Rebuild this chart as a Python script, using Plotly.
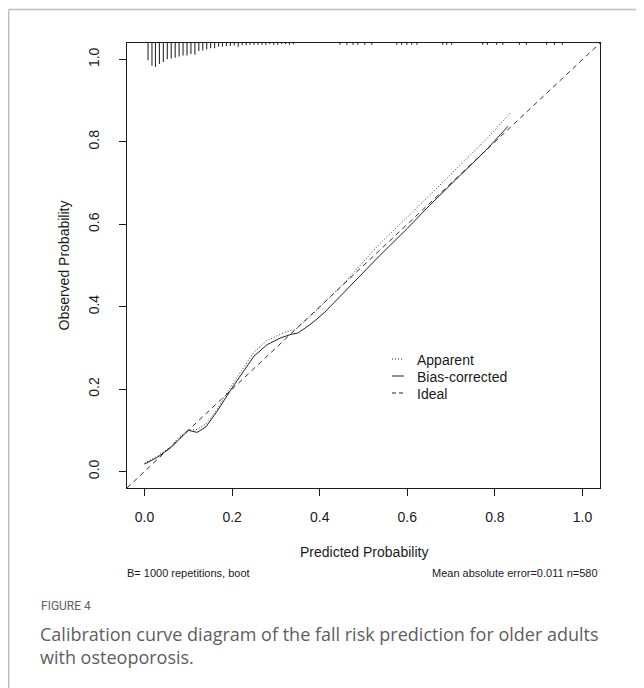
import plotly.graph_objects as go

# ---------------- data ----------------
bias_x = [0.0, 0.03, 0.06, 0.08, 0.10, 0.12, 0.14, 0.165, 0.20, 0.25, 0.28, 0.31, 0.335, 0.35,
          0.38, 0.41, 0.44, 0.484, 0.537, 0.60, 0.65, 0.72, 0.78, 0.83]
bias_y = [0.018, 0.035, 0.058, 0.080, 0.100, 0.095, 0.108, 0.145, 0.203, 0.280, 0.308, 0.324, 0.333, 0.336,
          0.358, 0.385, 0.418, 0.464, 0.524, 0.590, 0.645, 0.718, 0.780, 0.838]

app_x = [0.0, 0.03, 0.06, 0.08, 0.10, 0.12, 0.14, 0.165, 0.20, 0.25, 0.28, 0.32, 0.345, 0.385,
         0.43, 0.46, 0.537, 0.60, 0.70, 0.78, 0.835]
app_y = [0.020, 0.038, 0.060, 0.085, 0.100, 0.102, 0.115, 0.150, 0.210, 0.290, 0.318, 0.338, 0.345, 0.383,
         0.430, 0.462, 0.553, 0.617, 0.722, 0.806, 0.870]

ideal_x = [-0.04, 1.04]
ideal_y = [-0.04, 1.04]

# distribution of predicted probabilities (rug at top), relative frequency
rug_x = [0.008, 0.017, 0.025, 0.034, 0.043, 0.052, 0.061, 0.070, 0.079, 0.088, 0.097, 0.106,
         0.115, 0.124, 0.133, 0.142, 0.151, 0.160, 0.169, 0.178, 0.187, 0.196, 0.205, 0.214,
         0.223, 0.232, 0.241, 0.250, 0.259, 0.268, 0.277, 0.286, 0.295, 0.304, 0.313, 0.322,
         0.331, 0.340,
         0.446, 0.462, 0.476, 0.487, 0.503, 0.519, 0.576, 0.587, 0.599, 0.610, 0.622,
         0.681, 0.690, 0.701, 0.772, 0.783, 0.804, 0.818, 0.856, 0.872, 0.918, 0.936, 0.954]
rug_f = [15.7, 20.7, 21.7, 19.0, 17.3, 14.7, 14.0, 13.3, 12.3, 11.3, 11.3, 10.0,
         10.7, 7.3, 6.7, 5.7, 4.7, 4.7, 3.3, 3.3, 2.7, 2.7, 2.3, 3.3,
         2.0, 2.0, 1.7, 1.7, 1.7, 1.7, 1.7, 1.0, 1.5, 1.5, 1.0, 1.0,
         1.5, 1.0,
         1.5, 1.5, 1.5, 1.5, 1.5, 1.5, 1.5, 1.5, 1.5, 1.5, 1.5,
         1.5, 1.5, 1.5, 1.5, 1.5, 1.5, 1.5, 1.5, 1.5, 1.5, 1.5, 1.5]

tick_vals = [0.0, 0.2, 0.4, 0.6, 0.8, 1.0]
tick_text = ["0.0", "0.2", "0.4", "0.6", "0.8", "1.0"]

legend_labels = ["Apparent", "Bias-corrected", "Ideal"]
note_left = "B= 1000 repetitions, boot"
note_right = "Mean absolute error=0.011 n=580"
x_title = "Predicted Probability"
y_title = "Observed Probability"
fig_label = "FIGURE 4"
caption = "Calibration curve diagram of the fall risk prediction for older adults<br>with osteoporosis."

# ---------------- figure ----------------
OFF = 8                      # page body margin
W, H = 644 - OFF, 688 - OFF
PL, PT, PR, PB = 127, 43, 600, 488   # plot box in page pixels
pw, ph = PR - PL, PB - PT
L, T = PL - OFF, PT - OFF
R, B = W - L - pw, H - T - ph
RNG = [-0.04, 1.04]
INK = "#1a1a1a"
FONT = "Liberation Sans, Arial, sans-serif"


def px_x(p):
    return (p - PL) / pw


def px_y(p):
    return (PB - p) / ph


fig = go.Figure()

# rug segments
rug_scale = 0.058 / max(rug_f)
rx, ry = [], []
for xv, fv in zip(rug_x, rug_f):
    rx += [xv, xv, None]
    ry += [RNG[1], RNG[1] - fv * rug_scale, None]
fig.add_trace(go.Scatter(x=rx, y=ry, mode="lines", line=dict(color="#2a2a2a", width=1.1),
                         showlegend=False, hoverinfo="skip"))

fig.add_trace(go.Scatter(x=ideal_x, y=ideal_y, mode="lines", name="Ideal",
                         line=dict(color="#333", width=1, dash="5px,4px"), showlegend=False))
fig.add_trace(go.Scatter(x=app_x, y=app_y, mode="lines", name="Apparent",
                         line=dict(color="#333", width=1, dash="1px,2px"), showlegend=False))
fig.add_trace(go.Scatter(x=bias_x, y=bias_y, mode="lines", name="Bias-corrected",
                         line=dict(color="#222", width=1), showlegend=False))

axis_common = dict(range=RNG, tickvals=tick_vals, ticktext=tick_text, ticks="outside",
                   ticklen=7, tickwidth=1, tickcolor=INK, showline=True, mirror=True,
                   linecolor=INK, linewidth=1.2, showgrid=False, zeroline=False,
                   tickfont=dict(family=FONT, size=14, color=INK))
fig.update_xaxes(**axis_common, ticklabelstandoff=9)
fig.update_yaxes(**axis_common, tickangle=-90, ticklabelstandoff=14)

ann = []
# axis titles
ann.append(dict(x=0.5, y=px_y(552), xref="paper", yref="paper", text=x_title, showarrow=False,
                font=dict(family=FONT, size=14, color=INK), xanchor="center", yanchor="middle"))
ann.append(dict(x=px_x(63), y=0.5, xref="paper", yref="paper", text=y_title, showarrow=False,
                textangle=-90, font=dict(family=FONT, size=14, color=INK),
                xanchor="center", yanchor="middle"))
# notes
ann.append(dict(x=px_x(125), y=px_y(573), xref="paper", yref="paper", text=note_left,
                showarrow=False, font=dict(family=FONT, size=11, color=INK),
                xanchor="left", yanchor="middle"))
ann.append(dict(x=px_x(600), y=px_y(573), xref="paper", yref="paper", text=note_right,
                showarrow=False, font=dict(family=FONT, size=11, color=INK),
                xanchor="right", yanchor="middle"))
# legend
leg_y = [360, 377, 394]
leg_dash = ["1px,2px", "solid", "4px,3px"]
shapes = []
for lab, yy, dsh in zip(legend_labels, leg_y, leg_dash):
    ann.append(dict(x=px_x(415), y=px_y(yy), xref="paper", yref="paper", text=lab,
                    showarrow=False, font=dict(family=FONT, size=14, color=INK),
                    xanchor="left", yanchor="middle"))
    shapes.append(dict(type="line", xref="paper", yref="paper", x0=px_x(392), x1=px_x(404),
                       y0=px_y(yy - 1), y1=px_y(yy - 1), line=dict(color="#222", width=1, dash=dsh)))
# caption
ann.append(dict(x=px_x(39), y=px_y(606), xref="paper", yref="paper", text=fig_label,
                showarrow=False, font=dict(family="Roboto, sans-serif", size=12, color="#606060"),
                xanchor="left", yanchor="middle"))
ann.append(dict(x=px_x(38), y=px_y(620), xref="paper", yref="paper", text=caption,
                showarrow=False, align="left",
                font=dict(family="Open Sans, sans-serif", size=18, color="#5e5e5e"),
                xanchor="left", yanchor="top"))

# outer frame
shapes.append(dict(type="line", xref="paper", yref="paper", x0=px_x(8.7), x1=px_x(700),
                   y0=px_y(9.5), y1=px_y(9.5), line=dict(color="#bdbdbd", width=1.5)))
shapes.append(dict(type="line", xref="paper", yref="paper", x0=px_x(8.7), x1=px_x(8.7),
                   y0=px_y(9.5), y1=px_y(720), line=dict(color="#bdbdbd", width=1.5)))

fig.update_layout(width=W, height=H, margin=dict(l=L, r=R, t=T, b=B),
                  plot_bgcolor="white", paper_bgcolor="white", showlegend=False,
                  annotations=ann, shapes=shapes)

fig.write_html("out.html")
